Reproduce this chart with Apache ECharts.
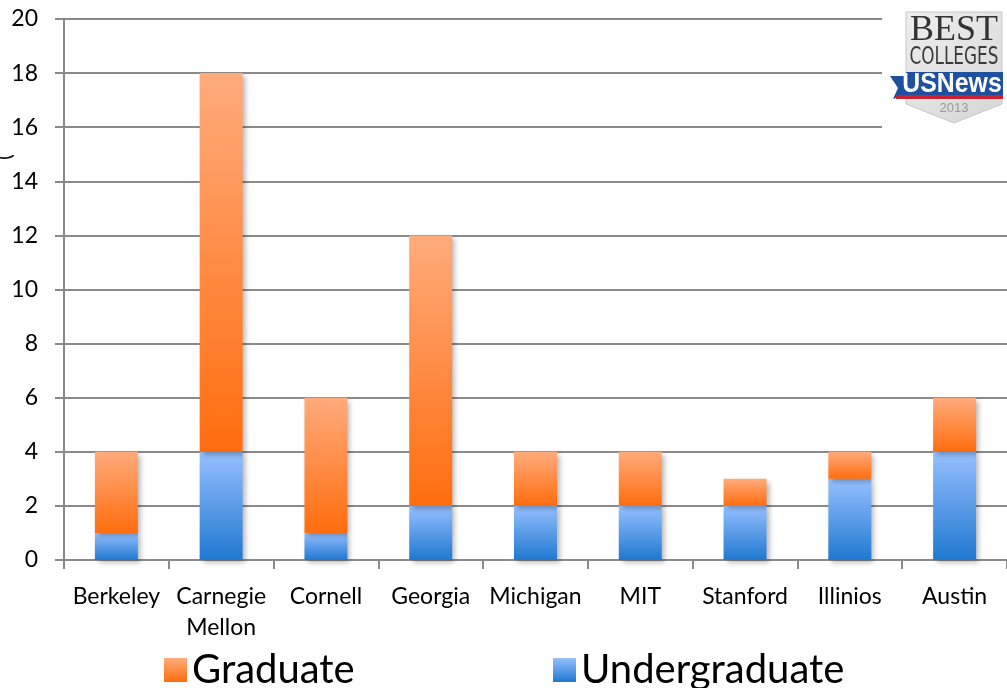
<!DOCTYPE html>
<html>
<head>
<meta charset="utf-8">
<script src="https://cdn.jsdelivr.net/npm/echarts@6/dist/echarts.min.js"></script>
<style>
  html, body { margin: 0; padding: 0; background: #fff; }
  #main { width: 1007px; height: 688px; }
</style>
</head>
<body>
<div id="main"></div>
<script>
// 数据
var schools = ['Berkeley', 'Carnegie\nMellon', 'Cornell', 'Georgia', 'Michigan', 'MIT', 'Stanford', 'Illinios', 'Austin'];
var undergrad = [1, 4, 1, 2, 2, 2, 2, 3, 4];
var graduate = [3, 14, 5, 10, 2, 2, 1, 1, 2];
var yTicks = [0, 2, 4, 6, 8, 10, 12, 14, 16, 18, 20];

var chart = echarts.init(document.getElementById('main'));

var fontMain = 'Lato, "Open Sans", sans-serif';
var gridGray = '#8a8a8a';

// 渐变色（每段柱子各自的渐变）
var orangeGrad = new echarts.graphic.LinearGradient(0, 0, 0, 1, [
    { offset: 0, color: '#ffab7c' },
    { offset: 1, color: '#ff6d0e' }
]);
var blueGrad = new echarts.graphic.LinearGradient(0, 0, 0, 1, [
    { offset: 0, color: '#96c0ff' },
    { offset: 1, color: '#1f78d0' }
]);

var barShadow = {
    shadowBlur: 5,
    shadowColor: 'rgba(0,0,0,0.28)',
    shadowOffsetX: 3,
    shadowOffsetY: 3
};

var legendText = { fontSize: 40, color: '#000', fontFamily: fontMain };

var option = {
    animation: false,
    backgroundColor: '#fff',
    grid: { left: 64, right: -1, top: 19, bottom: 128, containLabel: false },
    legend: [
        {
            data: ['Graduate'],
            icon: 'rect',
            left: 159, top: 645,
            itemWidth: 23, itemHeight: 24, itemGap: 10,
            textStyle: legendText
        },
        {
            data: ['Undergraduate'],
            icon: 'rect',
            left: 548, top: 645,
            itemWidth: 23, itemHeight: 24, itemGap: 10,
            textStyle: legendText
        }
    ],
    xAxis: {
        type: 'category',
        data: schools,
        axisLine: { lineStyle: { color: gridGray, width: 2 } },
        axisTick: { show: true, length: 9, interval: 0, lineStyle: { color: gridGray, width: 2 } },
        axisLabel: {
            interval: 0,
            margin: 21,
            color: '#000',
            fontSize: 23,
            lineHeight: 31,
            fontFamily: fontMain
        }
    },
    yAxis: {
        type: 'value',
        min: yTicks[0],
        max: yTicks[yTicks.length - 1],
        interval: 2,
        axisLine: { show: true, lineStyle: { color: gridGray, width: 2 } },
        axisTick: { show: true, length: 9, lineStyle: { color: gridGray, width: 2 } },
        splitLine: { lineStyle: { color: gridGray, width: 2 } },
        axisLabel: { color: '#000', fontSize: 23, margin: 26, fontFamily: fontMain }
    },
    series: [
        {
            name: 'Undergraduate',
            type: 'bar',
            stack: 'total',
            barWidth: 43,
            data: undergrad,
            itemStyle: Object.assign({ color: blueGrad }, barShadow)
        },
        {
            name: 'Graduate',
            type: 'bar',
            stack: 'total',
            barWidth: 43,
            data: graduate,
            itemStyle: Object.assign({ color: orangeGrad }, barShadow)
        }
    ],
    graphic: [
        // 左侧被截断的纵轴标题
        { type: 'text', x: -7, y: 160, rotation: Math.PI / 2,
          style: { text: '(', fontSize: 22, fill: '#000', fontFamily: fontMain } },
        // US News 徽标背景
        { type: 'rect', shape: { x: 882, y: 0, width: 125, height: 134 }, style: { fill: '#fff' }, z: 10 },
        { type: 'polygon', z: 11,
          shape: { points: [[906, 12], [1002, 12], [1002, 104], [954, 123], [906, 104]] },
          style: {
              fill: new echarts.graphic.LinearGradient(0, 0, 1, 1, [
                  { offset: 0, color: '#eeeeee' }, { offset: 1, color: '#d6d6d6' }
              ]),
              stroke: '#c8c8c8', lineWidth: 1
          } },
        { type: 'text', z: 12, x: 954, y: 31,
          style: { text: 'BEST', fontSize: 36, fontFamily: '"Liberation Serif", "DejaVu Serif", serif',
                   fill: '#333', align: 'center', verticalAlign: 'middle' } },
        { type: 'text', z: 12, x: 954, y: 58, scaleX: 0.78,
          style: { text: 'COLLEGES', fontSize: 24, fontFamily: '"Liberation Sans Narrow", "DejaVu Sans Condensed", "Liberation Sans", sans-serif',
                   fill: '#3a3a3a', align: 'center', verticalAlign: 'middle' } },
        // 蓝色缎带
        { type: 'polygon', z: 12,
          shape: { points: [[890, 76], [906, 76], [906, 72], [1003, 72], [1003, 95], [906, 95], [893, 99], [898, 88]] },
          style: { fill: '#1f4f9f' } },
        { type: 'rect', z: 12, shape: { x: 896, y: 95, width: 107, height: 4 }, style: { fill: '#c9232f' } },
        { type: 'text', z: 13, x: 952, y: 85, scaleX: 0.92,
          style: { text: 'USNews', fontSize: 27, fontWeight: 'bold', fontFamily: '"Liberation Sans", Arial, sans-serif',
                   fill: '#fff', align: 'center', verticalAlign: 'middle' } },
        { type: 'text', z: 13, x: 954, y: 108,
          style: { text: '2013', fontSize: 13, fontFamily: '"Liberation Sans", sans-serif',
                   fill: '#9a9a9a', align: 'center', verticalAlign: 'middle' } }
    ]
};

chart.setOption(option);
</script>
</body>
</html>
